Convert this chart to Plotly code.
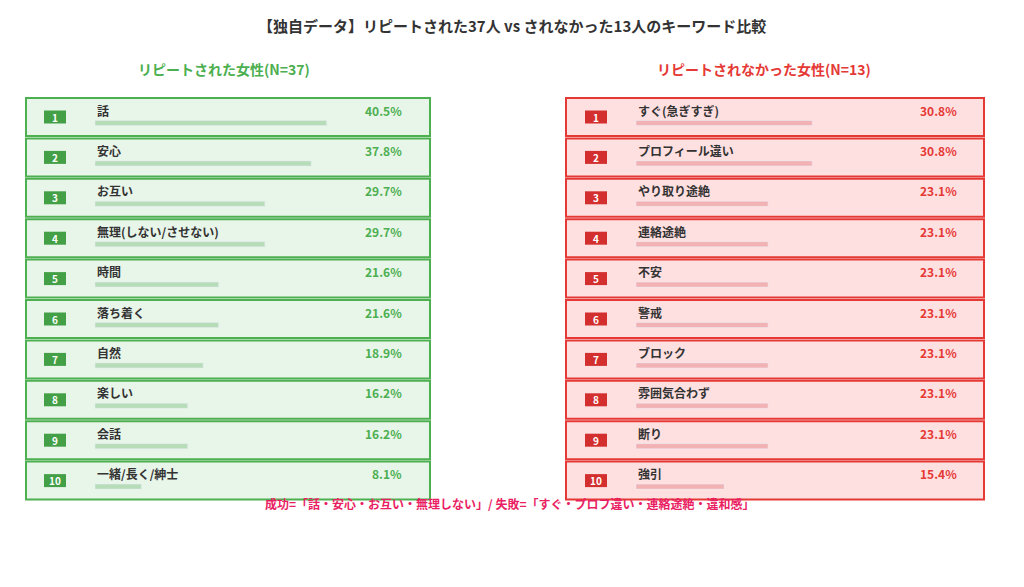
import plotly.graph_objects as go

left_words = ["話", "安心", "お互い", "無理(しない/させない)", "時間", "落ち着く", "自然", "楽しい", "会話", "一緒/長く/紳士"]
left_pct = [40.5, 37.8, 29.7, 29.7, 21.6, 21.6, 18.9, 16.2, 16.2, 8.1]
right_words = ["すぐ(急ぎすぎ)", "プロフィール違い", "やり取り途絶", "連絡途絶", "不安", "警戒", "ブロック", "雰囲気合わず", "断り", "強引"]
right_pct = [30.8, 30.8, 23.1, 23.1, 23.1, 23.1, 23.1, 23.1, 23.1, 15.4]

FONT = "Noto Sans CJK JP"
SCALE = 5.72  # px per percent
rows_y = [117 + i * 40.4 for i in range(10)]

panels = [
    dict(words=left_words, pct=left_pct, x0=26, x1=430, badge=55, bar0=95, pctx=404,
         line="#4caf50", fill="#e8f5e9", bar="#b7dcb8", badgec="#43a047", txt="#4caf50",
         title="リピートされた女性(N=37)", tx=224),
    dict(words=right_words, pct=right_pct, x0=566, x1=984, badge=596, bar0=636, pctx=959,
         line="#e53935", fill="#ffe0e1", bar="#f2b1b3", badgec="#d32f2f", txt="#e53935",
         title="リピートされなかった女性(N=13)", tx=764),
]

fig = go.Figure()
shapes, ann = [], []
for p in panels:
    for i, y in enumerate(rows_y):
        shapes.append(dict(type="rect", x0=p["x0"], x1=p["x1"], y0=y - 19, y1=y + 19,
                           line=dict(color=p["line"], width=2), fillcolor=p["fill"], layer="below"))
        shapes.append(dict(type="rect", x0=p["badge"] - 11, x1=p["badge"] + 11, y0=y - 6.5, y1=y + 6.5,
                           line=dict(width=0), fillcolor=p["badgec"]))
        ann.append(dict(x=p["badge"], y=y, text=f"<b>{i+1}</b>", showarrow=False,
                        font=dict(color="white", size=10, family=FONT)))
        ann.append(dict(x=p["bar0"], y=y - 7, text=f"<b>{p['words'][i]}</b>", showarrow=False,
                        xanchor="left", font=dict(color="#333", size=12, family=FONT)))
        ann.append(dict(x=p["pctx"], y=y - 7, text=f"<b>{p['pct'][i]}%</b>", showarrow=False,
                        xanchor="right", font=dict(color=p["txt"], size=12, family=FONT)))
    fig.add_trace(go.Bar(x=[v * SCALE for v in p["pct"]], y=[y + 6 for y in rows_y], base=p["bar0"],
                         orientation="h", width=5, marker=dict(color=p["bar"]), hoverinfo="skip"))
    ann.append(dict(x=p["tx"], y=69, text=f"<b>{p['title']}</b>", showarrow=False,
                    font=dict(color=p["txt"], size=14, family=FONT)))

ann.append(dict(x=512, y=25, text="<b>【独自データ】リピートされた37人 vs されなかった13人のキーワード比較</b>",
                showarrow=False, font=dict(color="#333", size=15, family=FONT)))
ann.append(dict(x=510, y=503, text="<b>成功=「話・安心・お互い・無理しない」/ 失敗=「すぐ・プロフ違い・連絡途絶・違和感」</b>",
                showarrow=False, font=dict(color="#e91e63", size=12, family=FONT)))

# page body has an 8px margin, so shift the axis window to compensate
fig.update_layout(
    width=1024, height=587, margin=dict(l=0, r=0, t=0, b=0),
    plot_bgcolor="white", paper_bgcolor="white", showlegend=False, barmode="overlay",
    xaxis=dict(range=[8, 1032], visible=False, fixedrange=True),
    yaxis=dict(range=[595, 8], visible=False, fixedrange=True),
    shapes=shapes, annotations=ann, font=dict(family=FONT),
)
fig.write_html("out.html")
